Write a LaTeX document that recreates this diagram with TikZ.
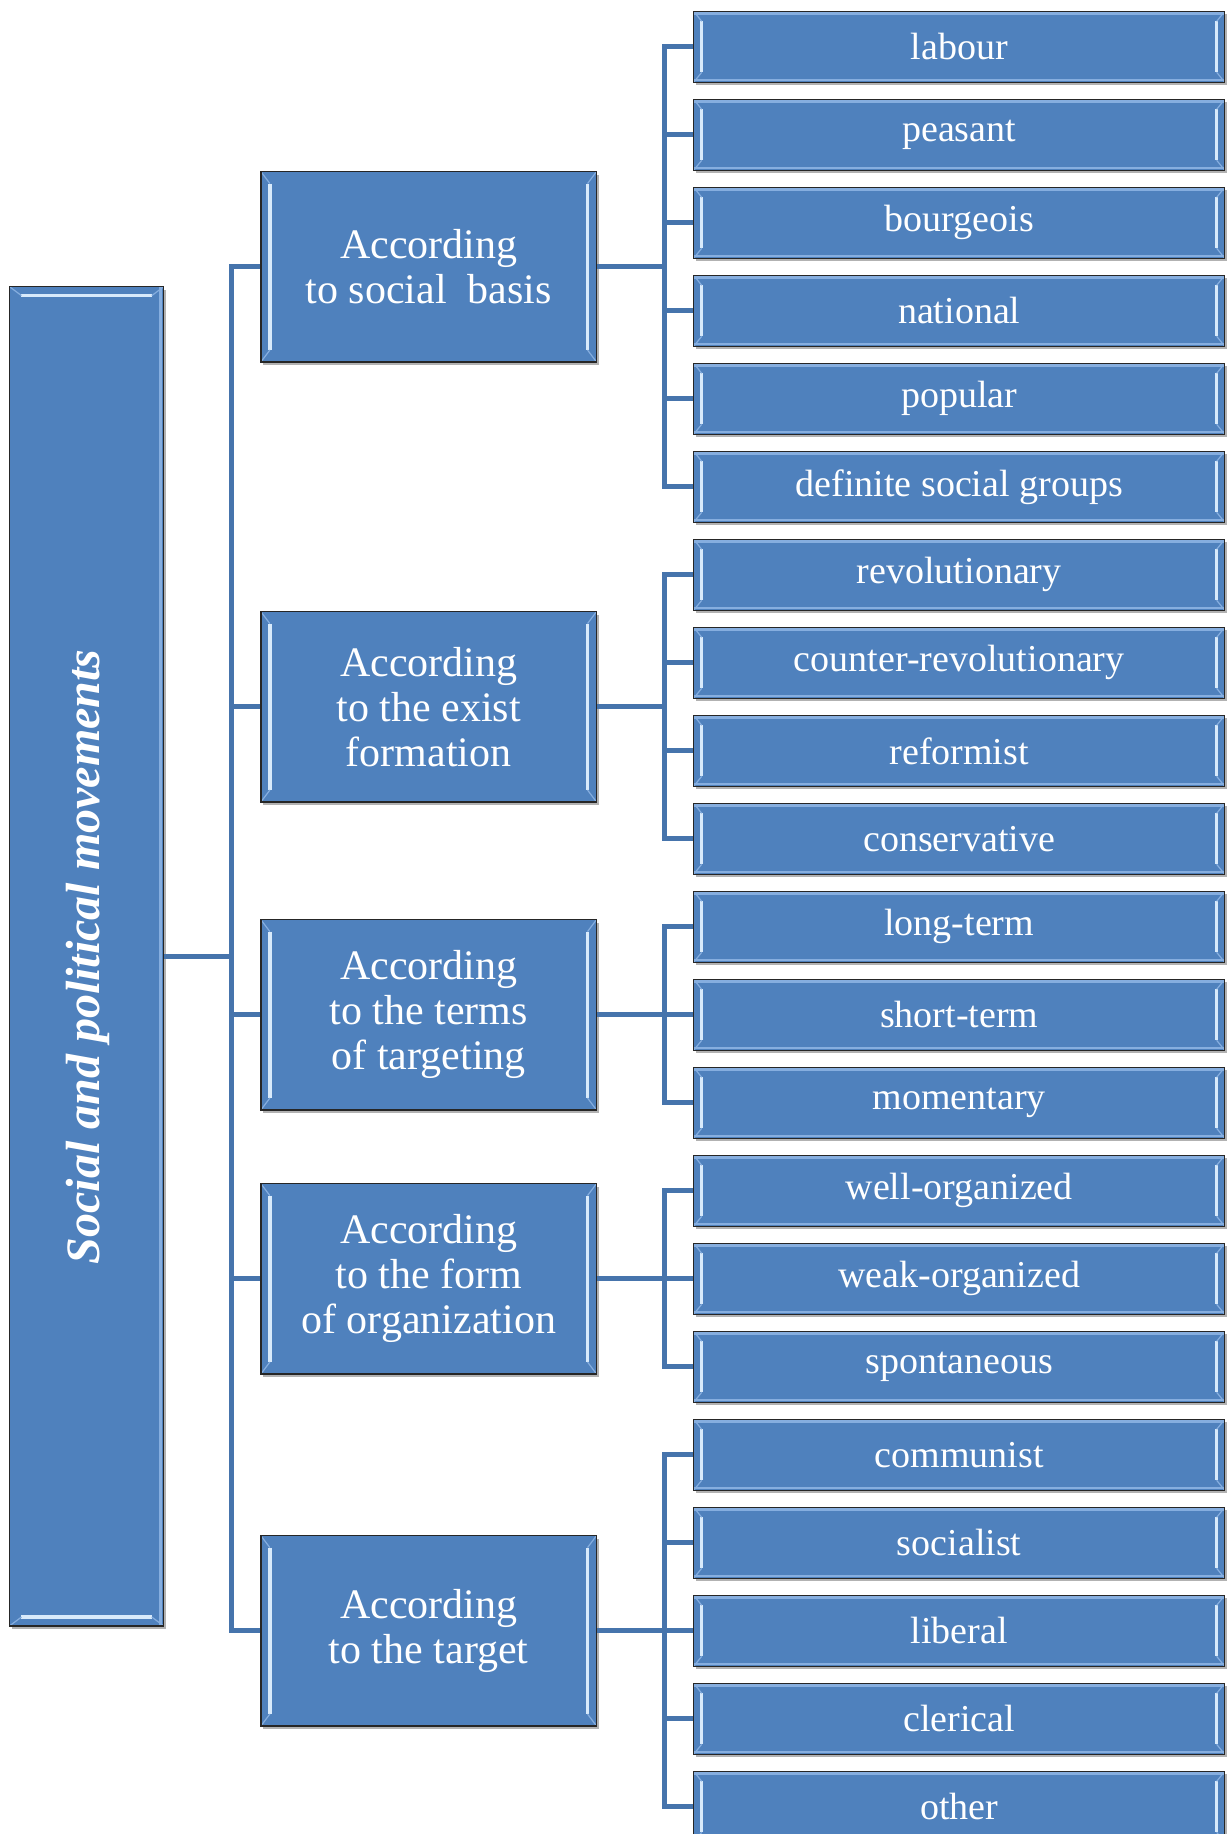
\documentclass[tikz,border=0pt]{standalone}
\usepackage{fontspec}
\setmainfont{Liberation Serif}
\usetikzlibrary{shadows}
\definecolor{boxblue}{HTML}{4F81BD}
\definecolor{linkblue}{HTML}{4674AC}
\definecolor{bevlight}{HTML}{D8EAFB}
\definecolor{bevmid}{HTML}{86AEDF}
\begin{document}
\begin{tikzpicture}[x=1pt,y=-1pt,
  basebox/.style={draw=black!85, line width=1.3pt, fill=boxblue, text=white, inner sep=0pt, align=center,
    drop shadow={shadow xshift=2.5pt, shadow yshift=-3pt, fill=black, opacity=0.3}},
  leafbox/.style={basebox, minimum width=531pt, minimum height=71pt,
    font=\fontsize{38}{44}\selectfont,
    path picture={
      \draw[bevmid, line width=3pt] ([yshift=-2pt]path picture bounding box.north west) -- ([yshift=-2pt]path picture bounding box.north east);
      \draw[bevmid, line width=2pt] ([yshift=2pt]path picture bounding box.south west) -- ([yshift=2pt]path picture bounding box.south east);
      \draw[bevlight, line width=3pt] ([xshift=8pt,yshift=-10pt]path picture bounding box.north west) -- ([xshift=8pt,yshift=10pt]path picture bounding box.south west);
      \draw[bevlight, line width=3pt] ([xshift=-8pt,yshift=-10pt]path picture bounding box.north east) -- ([xshift=-8pt,yshift=10pt]path picture bounding box.south east);
      \draw[bevmid, line width=1.2pt] (path picture bounding box.north west) -- ([xshift=8pt,yshift=-10pt]path picture bounding box.north west);
      \draw[bevmid, line width=1.2pt] (path picture bounding box.south west) -- ([xshift=8pt,yshift=10pt]path picture bounding box.south west);
      \draw[bevmid, line width=1.2pt] (path picture bounding box.north east) -- ([xshift=-8pt,yshift=-10pt]path picture bounding box.north east);
      \draw[bevmid, line width=1.2pt] (path picture bounding box.south east) -- ([xshift=-8pt,yshift=10pt]path picture bounding box.south east);
    }},
  catbox/.style={basebox, minimum width=335.7pt, minimum height=190.5pt,
    font=\fontsize{42}{45}\selectfont,
    path picture={
      \draw[bevlight, line width=3.5pt] ([xshift=9pt,yshift=-12pt]path picture bounding box.north west) -- ([xshift=9pt,yshift=12pt]path picture bounding box.south west);
      \draw[bevlight, line width=3.5pt] ([xshift=-9pt,yshift=-12pt]path picture bounding box.north east) -- ([xshift=-9pt,yshift=12pt]path picture bounding box.south east);
      \draw[bevmid, line width=1.2pt] (path picture bounding box.north west) -- ([xshift=9pt,yshift=-12pt]path picture bounding box.north west);
      \draw[bevmid, line width=1.2pt] (path picture bounding box.south west) -- ([xshift=9pt,yshift=12pt]path picture bounding box.south west);
      \draw[bevmid, line width=1.2pt] (path picture bounding box.north east) -- ([xshift=-9pt,yshift=-12pt]path picture bounding box.north east);
      \draw[bevmid, line width=1.2pt] (path picture bounding box.south east) -- ([xshift=-9pt,yshift=12pt]path picture bounding box.south east);
    }},
  mainbox/.style={basebox, minimum width=154.4pt, minimum height=1339.4pt,
    path picture={
      \draw[bevlight, line width=3.5pt] ([xshift=12pt,yshift=-9pt]path picture bounding box.north west) -- ([xshift=-12pt,yshift=-9pt]path picture bounding box.north east);
      \draw[bevlight, line width=3.5pt] ([xshift=12pt,yshift=9pt]path picture bounding box.south west) -- ([xshift=-12pt,yshift=9pt]path picture bounding box.south east);
      \draw[bevmid, line width=1.2pt] (path picture bounding box.north west) -- ([xshift=12pt,yshift=-9pt]path picture bounding box.north west);
      \draw[bevmid, line width=1.2pt] (path picture bounding box.north east) -- ([xshift=-12pt,yshift=-9pt]path picture bounding box.north east);
      \draw[bevmid, line width=1.2pt] (path picture bounding box.south west) -- ([xshift=12pt,yshift=9pt]path picture bounding box.south west);
      \draw[bevmid, line width=1.2pt] (path picture bounding box.south east) -- ([xshift=-12pt,yshift=9pt]path picture bounding box.south east);
      \draw[bevmid, line width=3pt] ([xshift=-3pt]path picture bounding box.north east) -- ([xshift=-3pt]path picture bounding box.south east);
    }},
  link/.style={draw=linkblue, line width=4.8pt}
]
\useasboundingbox (0,0) rectangle (1227,1834);

% main box
\node[mainbox] (main) at (86.6,956.3) {};
\node[text=white, rotate=90, font=\fontsize{48}{50}\selectfont\bfseries\itshape] (maintext) at (88,957) {Social and political movements};

% category boxes
\node[catbox] (c1) at (428.7,266.8) {According\\to social\ \ basis};
\node[catbox] (c2) at (428.7,706.8) {According\\to the exist\\formation};
\node[catbox] (c3) at (428.7,1014.8) {According\\to the terms\\of targeting};
\node[catbox] (c4) at (428.7,1278.8) {According\\to the form\\of organization};
\node[catbox] (c5) at (428.7,1630.8) {According\\to the target};

% leaves
\foreach \i/\t in {0/labour,1/peasant,2/bourgeois,3/national,4/popular,5/definite social groups,
  6/revolutionary,7/counter-revolutionary,8/reformist,9/conservative,
  10/long-term,11/short-term,12/momentary,
  13/well-organized,14/weak-organized,15/spontaneous,
  16/communist,17/socialist,18/liberal,19/clerical,20/other}{
  \node[leafbox] (l\i) at (959.2,{46.8+88*\i}) {\t};
}

% trunk and branch coordinates
\coordinate (trunk) at (231.6,956.3);
\coordinate (br1) at (664.4,266.8);
\coordinate (br2) at (664.4,706.8);
\coordinate (br3) at (664.4,1014.8);
\coordinate (br4) at (664.4,1278.8);
\coordinate (br5) at (664.4,1630.8);

\draw[link] (main.east) -- (trunk);
\foreach \c in {1,...,5}{
  \draw[link] (trunk) |- (c\c.west);
}
\foreach \i in {0,...,5}{ \draw[link] (c1.east) -- (br1) |- (l\i.west); }
\foreach \i in {6,...,9}{ \draw[link] (c2.east) -- (br2) |- (l\i.west); }
\foreach \i in {10,...,12}{ \draw[link] (c3.east) -- (br3) |- (l\i.west); }
\foreach \i in {13,...,15}{ \draw[link] (c4.east) -- (br4) |- (l\i.west); }
\foreach \i in {16,...,20}{ \draw[link] (c5.east) -- (br5) |- (l\i.west); }
\end{tikzpicture}
\end{document}
